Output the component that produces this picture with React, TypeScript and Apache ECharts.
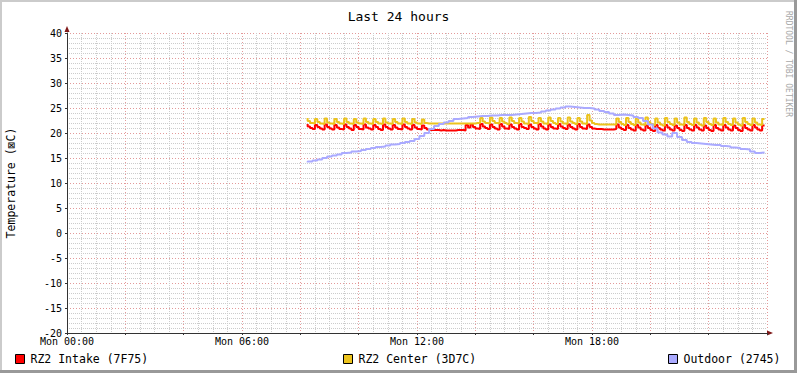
import React, { useEffect, useRef } from "react";
import * as echarts from "echarts";

// ---- data ----
const TITLE = "Last 24 hours";
const Y_NAME = "Temperature (⊠C)";
const WATERMARK = "RRDTOOL / TOBI OETIKER";
const X_TICK_LABELS = ["Mon 00:00", "Mon 06:00", "Mon 12:00", "Mon 18:00"];
const SERIES_NAMES = ["RZ2 Intake (7F75)", "RZ2 Center (3D7C)", "Outdoor (2745)"];
const SERIES_COLORS = ["#FF0000", "#ECC31D", "#AAAAFF"];

// minutes since Mon 00:00
const START_MIN = 495;
const STEP_FAST = 5;
const STEP_SLOW = 10;

const intakeValues = [
  21.8, 21.3, 21.0, 20.8,
  21.6, 21.2, 20.9, 20.7,
  21.7, 21.2, 20.9, 20.7,
  21.6, 21.1, 20.8, 20.7,
  21.7, 21.2, 20.9, 20.6,
  21.6, 21.2, 20.8, 20.7,
  21.7, 21.1, 20.9, 20.7,
  21.6, 21.2, 20.8, 20.6,
  21.7, 21.2, 20.9, 20.7,
  21.6, 21.1, 20.8, 20.7,
  21.7, 21.2, 20.9, 20.7,
  21.6, 21.1, 20.8, 20.7,
  21.5, 21.0, 20.7, 20.6,
  20.6, 20.6, 20.6, 20.5,
  20.6, 20.5, 20.5, 20.5,
  20.5, 20.5, 20.6, 20.6,
  20.6, 20.5, 21.6, 21.1,
  21.7, 21.2, 20.9, 20.8,
  21.8, 21.3, 21.0, 20.8,
  21.7, 21.2, 20.9, 20.7,
  21.8, 21.3, 20.9, 20.8,
  21.7, 21.2, 20.9, 20.7,
  21.8, 21.2, 21.0, 20.8,
  21.7, 21.2, 20.9, 20.7,
  21.8, 21.3, 20.9, 20.7,
  21.7, 21.2, 20.9, 20.8,
  21.8, 21.3, 21.0, 20.8,
  21.7, 21.2, 20.9, 20.7,
  21.8, 21.2, 20.9, 20.8,
  21.7, 21.2, 20.9, 20.8,
  20.8, 20.8, 20.7, 20.7,
  20.7, 20.7, 20.7, 20.8,
  21.7, 21.1, 20.8, 20.6,
  21.6, 21.0, 20.7, 20.5,
  21.6, 21.1, 20.7, 20.5,
  21.5, 21.0, 20.6, 20.4,
  21.6, 21.0, 20.7, 20.5,
  21.6, 21.1, 20.7, 20.5,
  21.5, 21.0, 20.6, 20.4,
  21.6, 21.0, 20.7, 20.5,
  21.6, 21.1, 20.7, 20.5,
  21.5, 21.0, 20.6, 20.4,
  21.6, 21.0, 20.7, 20.5,
  21.6, 21.1, 20.7, 20.5,
  21.5, 21.0, 20.6, 20.4,
  21.6, 21.0, 20.7, 20.5,
  21.6, 21.1, 20.7, 20.5,
  21.5,
];

const centerValues = [
  23.0, 22.4, 22.0, 21.9,
  22.8, 22.2, 21.9, 21.8,
  22.9, 22.1, 21.9, 21.8,
  22.8, 22.2, 21.9, 21.8,
  22.9, 22.2, 21.9, 21.8,
  22.8, 22.1, 21.9, 21.8,
  22.9, 22.2, 21.9, 21.8,
  22.8, 22.2, 21.9, 21.8,
  22.9, 22.1, 21.9, 21.8,
  22.8, 22.2, 21.9, 21.8,
  22.9, 22.2, 21.9, 21.8,
  22.8, 22.1, 21.9, 21.8,
  22.7, 22.0, 21.9, 21.9,
  21.9, 21.9, 21.9, 21.9,
  21.9, 21.9, 21.9, 21.9,
  21.9, 21.9, 21.9, 21.9,
  21.9, 21.9, 21.9, 21.9,
  21.9, 21.9, 22.0, 22.0,
  23.0, 22.3, 22.0, 21.9,
  23.1, 22.4, 22.0, 21.9,
  23.0, 22.3, 22.0, 21.8,
  23.1, 22.4, 22.0, 21.9,
  23.0, 22.3, 21.9, 21.8,
  23.2, 22.4, 22.0, 21.9,
  23.0, 22.3, 21.9, 21.8,
  23.1, 22.4, 22.0, 21.8,
  23.0, 22.3, 21.9, 21.8,
  23.1, 22.3, 22.0, 21.8,
  23.0, 22.3, 21.9, 21.8,
  23.6, 22.5, 22.0, 21.8,
  21.7, 21.7, 21.7, 21.7,
  21.7, 21.7, 21.7, 21.7,
  22.9, 22.2, 21.8, 21.6,
  23.0, 22.2, 21.8, 21.6,
  22.9, 22.1, 21.7, 21.6,
  23.1, 22.2, 21.8, 21.6,
  22.9, 22.1, 21.7, 21.5,
  23.0, 22.2, 21.8, 21.6,
  22.9, 22.1, 21.7, 21.6,
  23.1, 22.2, 21.8, 21.6,
  22.9, 22.1, 21.7, 21.5,
  23.0, 22.2, 21.8, 21.6,
  22.9, 22.1, 21.7, 21.6,
  23.0, 22.2, 21.8, 21.6,
  22.9, 22.1, 21.7, 21.5,
  23.0, 22.2, 21.8, 21.6,
  22.9, 22.1, 21.7, 21.6,
  22.8,
];

const outdoorValues = [
  14.1, 14.3, 14.5, 14.7, 15.0, 15.3, 15.5, 15.7, 16.0, 16.1,
  16.3, 16.4, 16.6, 16.8, 17.0, 17.2, 17.3, 17.5, 17.7, 17.8,
  18.0, 18.2, 18.4, 18.8, 19.4, 20.0, 20.8, 21.4, 21.8, 22.1,
  22.4, 22.8, 22.9, 23.0, 23.2, 23.3, 23.4, 23.4, 23.5, 23.5,
  23.6, 23.6, 23.6, 23.7, 23.8, 23.9, 24.0, 24.0, 24.1, 24.3,
  24.5, 24.7, 24.9, 25.1, 25.3, 25.2, 25.1, 25.0, 25.0, 24.9,
  24.7, 24.4, 24.2, 23.9, 23.6, 23.7, 23.6, 23.5, 23.2, 23.0,
  22.4, 21.7, 20.9, 20.1, 19.7, 19.3, 20.0, 19.2, 18.6, 18.2,
  18.0, 17.9, 17.8, 17.7, 17.6, 17.6, 17.4, 17.3, 17.1, 17.0,
  16.8, 16.7, 16.3, 16.0, 16.1,
];

const toPairs = (vals: number[], start: number, step: number) =>
  vals.map((v, i) => [start + i * step, v]);

const FONT = "'DejaVu Sans Mono', monospace";
const MAJOR_GRID = { color: "#E39A9A", type: [1, 2], width: 1 };
const MINOR_GRID = { color: "#CCCCCC", type: [1, 1], width: 1 };

export default function App() {
  const ref = useRef<HTMLDivElement>(null);

  useEffect(() => {
    document.body.style.margin = "0";
    if (!ref.current) return;
    const chart = echarts.init(ref.current, undefined, { renderer: "svg" });

    const seriesData = [
      toPairs(intakeValues, START_MIN, STEP_FAST),
      toPairs(centerValues, START_MIN, STEP_FAST),
      toPairs(outdoorValues, START_MIN, STEP_SLOW),
    ];

    const legendLefts = [15, 343, 668];

    chart.setOption({
      animation: false,
      backgroundColor: "#FFFFFF",
      title: {
        text: TITLE,
        left: "center",
        top: 5,
        textStyle: { fontFamily: FONT, fontSize: 13, fontWeight: "normal", color: "#000" },
      },
      legend: SERIES_NAMES.map((name, i) => ({
        data: [{ name, icon: "rect" }],
        left: legendLefts[i],
        top: 353,
        padding: 0,
        itemWidth: 9,
        itemHeight: 9,
        itemGap: 0,
        selectedMode: false,
        itemStyle: { borderColor: "#000", borderWidth: 1 },
        textStyle: { fontFamily: FONT, fontSize: 11.5, color: "#000", padding: [0, 0, 0, 1] },
      })),
      grid: { left: 67, top: 33, width: 700, height: 300, containLabel: false },
      xAxis: {
        type: "value",
        min: 0,
        max: 1440,
        interval: 120,
        axisLine: { show: true, onZero: false, lineStyle: { color: "#333", width: 1 } },
        axisTick: { show: true, length: 2, lineStyle: { color: "#333" } },
        axisLabel: {
          fontFamily: FONT,
          fontSize: 10,
          color: "#000",
          margin: 3,
          showMaxLabel: true,
          formatter: (v: number) => (v % 360 === 0 && v < 1440 ? X_TICK_LABELS[v / 360] : ""),
        },
        splitLine: { show: true, lineStyle: MAJOR_GRID },
        minorTick: { show: false, splitNumber: 4 },
        minorSplitLine: { show: true, lineStyle: MINOR_GRID },
      },
      yAxis: {
        type: "value",
        min: -20,
        max: 40,
        interval: 5,
        axisLine: { show: true, onZero: false, lineStyle: { color: "#333", width: 1 } },
        axisTick: { show: true, length: 2, lineStyle: { color: "#333" } },
        axisLabel: { fontFamily: FONT, fontSize: 10, color: "#000", margin: 5 },
        splitLine: { show: true, lineStyle: MAJOR_GRID },
        minorTick: { show: false, splitNumber: 5 },
        minorSplitLine: { show: true, lineStyle: MINOR_GRID },
      },
      series: SERIES_NAMES.map((name, i) => ({
        name,
        type: "line",
        data: seriesData[i],
        showSymbol: false,
        symbol: "none",
        step: "start",
        color: SERIES_COLORS[i],
        lineStyle: { color: SERIES_COLORS[i], width: 2 },
        z: 2 + i,
      })),
      graphic: [
        { type: "rect", shape: { x: 0, y: 0, width: 797, height: 2 }, style: { fill: "#CBCBCB" }, silent: true },
        { type: "rect", shape: { x: 0, y: 0, width: 2, height: 373 }, style: { fill: "#CBCBCB" }, silent: true },
        { type: "rect", shape: { x: 0, y: 370, width: 797, height: 3 }, style: { fill: "#999999" }, silent: true },
        { type: "rect", shape: { x: 794, y: 0, width: 3, height: 373 }, style: { fill: "#999999" }, silent: true },
        {
          type: "polygon",
          shape: { points: [[767, 330.5], [773, 333], [767, 335.5]] },
          style: { fill: "#7F1818" },
          silent: true,
        },
        {
          type: "polygon",
          shape: { points: [[64.5, 32], [67, 26], [69.5, 32]] },
          style: { fill: "#7F1818" },
          silent: true,
        },
        {
          type: "text",
          x: 11,
          y: 183,
          rotation: Math.PI / 2,
          style: {
            text: Y_NAME,
            fontFamily: FONT,
            fontSize: 11.5,
            fill: "#000",
            align: "center",
            verticalAlign: "middle",
          },
          silent: true,
        },
        {
          type: "text",
          x: 788,
          y: 11,
          rotation: -Math.PI / 2,
          style: {
            text: WATERMARK,
            fontFamily: FONT,
            fontSize: 8,
            fill: "#A8A8A8",
            align: "left",
            verticalAlign: "middle",
          },
          silent: true,
        },
      ],
    });

    return () => chart.dispose();
  }, []);

  return <div ref={ref} style={{ width: 797, height: 373 }} />;
}
